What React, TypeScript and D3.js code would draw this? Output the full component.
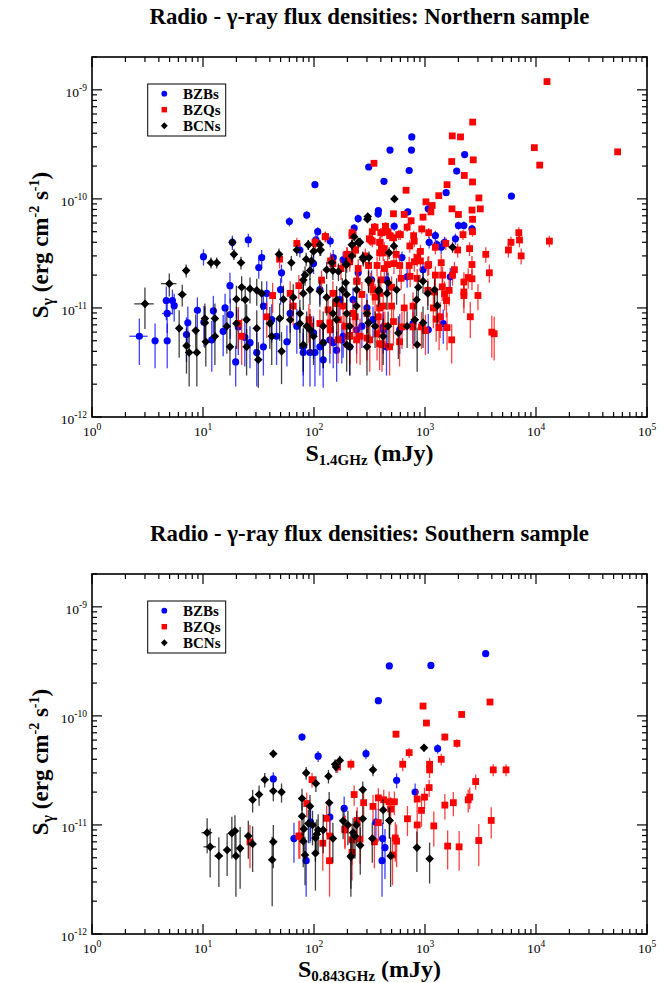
import React from 'react';
import * as d3 from 'd3';

// Each point: [radio flux (mJy), gamma flux (1e-12 erg cm^-2 s^-1), gamma error (same unit), optional radio error (mJy)]
type Pt = number[];

const Y_UNIT = 1e-12;
const xDomain = [1, 1e5];
const yDomain = [1e-12, 2e-9];
const legendLabels = ['BZBs', 'BZQs', 'BCNs'];
const panelTitles = ['Radio - \u03b3-ray flux densities: Northern sample', 'Radio - \u03b3-ray flux densities: Southern sample'];
const xLabelSubs = ['1.4GHz', '0.843GHz'];

const northBZB: Pt[] = [
  [760,370,10],[484,280,10],[755,280,10],[311,196,8],[427,145,8],[720,182,8],[102,135,8],[2276,255,10],[1930,180,8],[1550,114,6],[6000,106,6],
  [86,71,6],[700,76,6],[380,78,6],[378,73,6],[250,66,6],[1070,81,6],[2000,57,5],[2240,57,5],[2650,53,5],[1240,46,5],[1880,43,5],[1090,40,5],[1500,40,5],[1400,36,5],[230,54,5],[108,50,5],[140,41,5],[104,42,5],[528,56,5],
  [60,62,6],[25.6,42,6],[18.4,40,6],[10.1,29.5,5],[33.8,29,5],[31.8,23.5,5],[17.5,16,5],[4.67,11.7,4],[5.3,11.7,3],[5.5,10.5,3],[4.76,8.9,3,0.5],[2.67,5.5,2.5,0.5],[3.7,5.0,2.2],[4.76,5.0,2.2],[8.9,9.5,3],[19.7,3.2,1.3],[7.3,7.3,3],[7.1,5.7,2.5],[12.4,9.4,3.5],[15.8,10,3.5],[17.6,8.7,3.5],[10.2,7.4,3],[12,5.1,2.5],[15.2,6.1,2.5],[20.8,6.7,3],[23.8,5.4,2.5],
  [51,21,4],[50,14.7,4],[37.5,13.6,4],[35,10.4,4],[41.6,7.8,3],[61,8.9,3],[70,6.8,3],[46,5.5,2.5],[35,4.4,2],[30.5,3.9,2],[26.5,4.8,2],[57,4.9,2],[80,4.4,2],[92,3.9,2],[113,4.4,2],[139,5.1,2],[160,4.1,2],[121,3.35,1.5],[183,5.5,2],[210,4.4,2],[270,6.8,2.5],[340,7.8,2.5],[420,6.3,2.5],[450,4.4,2],
  [74.6,34,5],[99,25.5,5],[149,29,5],[183,27.6,5],[250,21,4],[330,18.1,4],[450,18.1,4],[620,29,4],[690,19.3,4],[960,22.4,4],[1280,38,4],[1690,19.3,4],[225,11.9,3.5],[300,10,3.5],[171,11.9,3.5],[113,14.7,4],[99,5.9,2.5],[121,4.8,2],[149,4.8,2],[178,5.1,2],[242,6.3,2.5],[420,6.7,2.5],[592,6.3,2.5],[780,7.2,2.5],[1070,6.3,2.5],[1460,7.2,2.5],[80,3.9,2],[102,3.9,2],
];

const northBZQ: Pt[] = [
  [12560,1190,20],[2690,506,10],[1760,378,10],[2090,370,10],[9660,295,8],[54400,270,8],[347,212,8],[1740,220,8],[2720,228,8],[10800,204,8],[2260,164,6],[2680,143,6],[1580,135,6],[675,120,6],[1330,107,5],[3060,102,5],[1020,94,5],[1160,87,5],[1130,76,5],[1750,81,5],[2650,79,5],[3150,81,5],[2000,72,5],[520,73,5],[650,72,5],[960,68,5],[750,63,5],[2680,65,5],[690,55,5],[440,56,5],[350,55,5],[600,47,5],[335,50,5],[400,49,5],[465,50,5],[935,53,5],[1080,49,5],[2680,50,5],[2200,47,5],[7000,49,6],[7100,42,6],[5950,40,5],[13200,41,5],[220,46,5],[315,43,5],[335,41,5],[395,40,5],[480,46,5],[520,44,5],[580,47,5],[800,41,5],[790,46,5],[1540,39,5],[910,33,5],[1240,36,5],[1970,34,5],[2520,35,5],[3530,31,5],[5640,34,5],[7350,30,5],[3800,21,4],[405,35,5],[420,32,5],[390,32,5],[550,31,5],[730,37,5],[235,34,5],[200,31,5],[210,28,5],[290,30,5],[1400,26,5],[1080,25,5],[2650,25,5],[1240,20,4],[1440,20,4],[1840,22.4,4],[1770,20,4],[2240,17.3,4],[2650,18.5,4],[2450,19,4],[1430,15.6,4],[2240,14,4],[2240,13,4],[3000,13,3.5],[1650,14.5,4],[1560,11.7,3.5],[2560,8.3,3],[4000,6,2.5],[4200,5.8,2.5],[1740,5.1,2],[1580,6.6,2.5],[1340,6.6,2.5],[1010,6.2,2.5],[1260,7.9,3],[1370,8.3,3],[1190,10,3.5],[1220,14,4],[1060,14.5,4],[1500,13.5,4],
  [720,24.5,5],[800,26.5,5],[910,27,5],[1060,24.5,5],[850,29,5],[592,24.5,5],[525,25.5,5],[460,25,5],[430,23,5],[370,24.5,5],[310,24.5,5],[250,23,5],[210,26.5,5],[175,23,5],[148,25.5,5],[127,45,5],[103,39,5],
  [242,17.6,4],[325,17,4],[400,18.1,4],[500,15.5,4],[610,18.7,4],[735,19.5,4],[850,18.7,4],[270,13.3,4],[355,12.6,4],[390,10,3.5],[500,10.4,3.5],[650,10,3.5],[780,10.4,3.5],[235,8.3,3],[300,8.9,3],[380,8.3,3],[520,7.5,3],[620,6.7,2.5],[780,6.7,2.5],[930,6.7,2.5],[210,5.5,2.5],[260,5.5,2.5],[318,5.1,2.5],[390,4.7,2],[480,4.4,2],[590,4.9,2],[165,5.1,2],[140,6.3,2.5],[113,7.2,2.5],[183,10.4,3.5],[148,13.6,4],
  [42.4,13,4],[70,39,5],[49,28,5],[126,45,5],[102,40,5],[117,18,4],[73,16,4],[197,31,5],[237,34,5],[141,27,5],[220,49,5],[225,47,5],[355,55,5],[440,56,5],[410,49,5],[325,42,5],[390,40,5],[430,35,5],[245,17.6,4],[340,14.7,4],[390,13.6,4],[420,10.4,3.5],[90,7.8,3],[92,6.8,3],[139,7.3,2.5],[166,7.8,3],[190,6.8,2.5],[210,5.6,2.5],[242,5.1,2],[300,5.3,2],[370,5.8,2.5],[435,6.8,2.5],[410,4.6,2],[134,9.6,3.5],[225,8.9,3],[160,11,3.5],[22.3,5.5,2.5],[20.8,7.2,3],[37.5,8.3,3],[61,13.6,4],[65,10.4,3.5],
];

const northBCN: Pt[] = [
  [3.0,10.9,4.5,0.6],[4.97,16.7,4,0.8],[7.05,22,3],[6.5,13.3,3,0.6],[6.1,6.5,3],[7.5,3.9,2],[8.8,3.9,2],[7.1,4.5,2],[8.6,6.2,2.5],[10.6,4.9,2],[10.4,7.3,3],[11.8,26,3],[13.3,26,3],[19,31,3.5],[18.4,40,4],[22,26,3.5],[48.4,31,4],[70,34,4],[89,38,4],[113,38,4],[115,34,4],[62.5,26,4],[85,28,4],[303,65,4],[250,40,4],[220,38,4],[260,40,4],[278,28,4],[197,25,4],[219,30,4],[148,22,4],[130,22.4,4],[92,22,4],[83,20,4],[80,18,4],[22.3,15.5,4],[20,12,4],[24,11.9,4],[26.5,15,4],[30.5,14.5,4],[33.8,13.6,4],[53,12,4],[65,12.5,4],[80,13.6,4],[92,14.7,4],[113,14.2,4],[130,12.5,4],[160,11.9,4],[197,13.3,4],[242,14.7,4],[310,18.1,4],[380,14.2,4],
  [12.8,8,3],[10.4,8,3],[12.8,5.5,2.5],[16.4,6.8,3],[20,7.2,3],[24.7,7.8,3],[30.5,6.5,3],[40,7.2,3],[49,8,3],[61,7.8,3],[74.6,7.2,3],[92,6.3,2.5],[121,6.8,2.5],[160,7.8,3],[197,8.9,3],[242,10.4,3.5],[300,8.9,3],[355,6.8,2.5],[420,5.5,2.5],[300,4.4,2],[197,4.6,2],[121,4.8,2],[80,4.6,2],[51,4.0,2],[41.6,5.5,2.5],[31.5,3.35,1.5],[24.7,4.4,2],[17.5,4.4,2],
  [530,100,5],[305,69,5],[230,45,4],[255,40,4],[220,38,4],[525,37,4],[475,32,4],[1770,36,4],[275,29,4],[313,29,4],[193,25,4],[166,21.6,4],[145,26,4],[113,34,4],[99,33,4],[89,38,4],[95,27,4],
  [193,17,4],[180,14.7,4],[310,17.7,4],[385,14.7,4],[455,13.6,4],[465,17,4],[555,14.7,4],[870,15.5,4],[960,17.6,4],[1060,13.6,4],[1220,14.7,4],[1290,10.5,3.5],[840,11.9,3.5],
  [148,8.9,3],[210,6.8,2.5],[310,7.3,2.5],[465,6.8,2.5],[575,5.9,2.5],[690,6.8,2.5],[810,7.8,3],[960,7.3,3],[850,4.6,2],[210,4.4,2],[99,5.5,2.5],[86,6.8,2.5],[74.6,8.9,3],
];

const southBZB: Pt[] = [
  [3520,372,8],[477,287,8],[1130,290,8],[380,138,6],[78,64,5],[109,42.7,5],[294,45,5],[1300,50,5],[555,25.7,4],[815,20,4],[187,14.2,4],[139,11.8,3.5],[66,7.5,3],[85,4.7,2.5],[415,7.5,3],[436,6.2,3],[410,4.7,2.5],[93,10.6,3.5],[43,26.4,4],[361,10.6,3.5],[92,10.3,3.5],
];

const southBZQ: Pt[] = [
  [3850,134,6],[2140,103,5],[960,123,5],[1030,86,5],[548,68,5],[1510,64,5],[1940,56,5],[720,46,5],[630,36,5],[1100,36,5],[1100,32,5],[1400,40,5],[215,36,4],[163,34,4],[96,26,4],[4120,32,4],[5370,32,4],[2860,25,4],[1090,22,4],[850,17.3,4],[990,18,4],[230,19,4],[2450,17,4],[2530,18,4],[1800,16,4],[1510,15.2,4],[380,17.7,4],[425,17,4],[475,16.3,4],[530,16.3,4],[280,16,4],[340,14.8,4],[490,14,4],[930,13.6,4],[695,11.4,3.5],[3950,11,3.5],[850,10,3.5],[1200,9.8,3.5],[380,10.5,3.5],[130,11.5,3.5],[190,9,3],[86,15.7,4],[73,7.9,3],[120,6.8,3],[139,7.9,3],[220,7.3,3],[260,7.4,3],[350,7,3],[540,7.6,3],[555,7.1,3],[510,5.3,2.5],[220,5.6,2.5],[138,4.7,2.5],[1600,6.4,2.5],[2030,6.3,2.5],[3050,7.2,3],[245,11,3.5],[26.5,7,3],[74.6,7.9,3],[190,9.2,3],
];

const southBCN: Pt[] = [
  [43,45,4],[36,26,4],[32,19,4],[28,17,4],[43,20.5,4],[51,20,4],[85,30,4],[104,24,4],[135,28,4],[155,36,4],[171,39,4],[158,34,4],[340,32,4],[275,21,4],[78,17.5,4],[92,14.8,4],[137,16,4],
  [10.9,8.5,3,1.2],[11.6,6.3,3,1.5],[13.9,5.2,2.5,1.2],[16.5,5.9,2.5,1.2],[18.2,8.4,3.5],[19.4,8.8,3.5],[19.8,5.2,3],[21.6,6.1,3.5],[25.6,7.9,3],[28,6.7,3],[43,7,3],[42,4.8,3],
  [78,12,4],[81,9.2,3.5],[89,10.3,3.5],[97,10,3.5],[109,9,3.5],[121,9,3.5],[80,7.1,3],[83,5.3,2.5],[103,5.5,3],[103,7.6,3],[106,8.2,3],[148,7.5,3],[183,10.9,3.5],[202,10,3.5],[242,10,3.5],[275,11.4,3.5],[225,8.5,3],[234,7.9,3],[261,6.5,3],[215,5.2,3],[420,13.7,3.5],[477,11,3.5],[335,7.5,3],[980,51,4],[480,11,3.5],[845,6.2,2.5],[1100,4.9,2],[215,5.1,2.5],[490,5.2,2.5],
];

const SERIF = "'Liberation Serif', 'Times New Roman', 'DejaVu Serif', serif";
const colors = ['#0000ff', '#ff0000', '#000000'];
const shapes = ['circle', 'square', 'diamond'];

function Marker({ shape, cx, cy, color, s = 1 }: { shape: string; cx: number; cy: number; color: string; s?: number }) {
  if (shape === 'circle') return <circle cx={cx} cy={cy} r={3.6 * s} fill={color} />;
  if (shape === 'square') { const h = 3.4 * s; return <rect x={cx - h} y={cy - h} width={2 * h} height={2 * h} fill={color} />; }
  const d = 4.3 * s;
  return <path d={`M${cx},${cy - d}L${cx + d},${cy}L${cx},${cy + d}L${cx - d},${cy}Z`} fill={color} />;
}

function Series({ data, x, y, color, shape }: any) {
  const yMin = yDomain[0];
  return (
    <g>
      <g stroke={color} strokeWidth={1.3} strokeOpacity={0.75}>
        {data.map((d: Pt, i: number) => {
          const cx = x(d[0]);
          const hi = y((d[1] + d[2]) * Y_UNIT);
          const lo = y(Math.max((d[1] - d[2]) * Y_UNIT, yMin));
          const cy = y(d[1] * Y_UNIT);
          return (
            <g key={i}>
              <line x1={cx} x2={cx} y1={hi} y2={lo} />
              {d[3] ? <line x1={x(d[0] - d[3])} x2={x(d[0] + d[3])} y1={cy} y2={cy} /> : null}
            </g>
          );
        })}
      </g>
      {data.map((d: Pt, i: number) => (
        <Marker key={i} shape={shape} cx={x(d[0])} cy={y(d[1] * Y_UNIT)} color={color} />
      ))}
    </g>
  );
}

function Panel({ top, title, sub, series, labelDy }: { top: number; title: string; sub: string; series: Pt[][]; labelDy: number }) {
  const left = 92, right = 647, bottom = top + 360;
  const x = d3.scaleLog().domain(xDomain).range([left, right]);
  const y = d3.scaleLog().domain(yDomain).range([bottom, top]);
  const isMajor = (t: number) => Math.abs(Math.log10(t) - Math.round(Math.log10(t))) < 1e-6;
  const xt = x.ticks();
  const yt = y.ticks().filter((t) => t >= yDomain[0] * 0.999 && t <= yDomain[1] * 1.001);
  const midX = (left + right) / 2;
  const midY = (top + bottom) / 2;
  const lgTop = top + 27;
  return (
    <g fontFamily={SERIF}>
      <text x={midX} y={top - 33} textAnchor="middle" fontSize={22.8} fontWeight="bold">{title}</text>
      <rect x={left} y={top} width={right - left} height={bottom - top} fill="white" />
      {series.map((d, i) => (
        <Series key={i} data={d} x={x} y={y} color={colors[i]} shape={shapes[i]} />
      ))}
      <g stroke="black" strokeWidth={1.2}>
        {xt.map((t, i) => {
          const L = isMajor(t) ? 10 : 5;
          const px = x(t);
          return (
            <g key={i}>
              <line x1={px} x2={px} y1={bottom} y2={bottom - L} />
              <line x1={px} x2={px} y1={top} y2={top + L} />
            </g>
          );
        })}
        {yt.map((t, i) => {
          const L = isMajor(t) ? 10 : 5;
          const py = y(t);
          return (
            <g key={i}>
              <line x1={left} x2={left + L} y1={py} y2={py} />
              <line x1={right} x2={right - L} y1={py} y2={py} />
            </g>
          );
        })}
      </g>
      <rect x={left} y={top} width={right - left} height={bottom - top} fill="none" stroke="black" strokeWidth={1.6} />
      {xt.filter(isMajor).map((t, i) => (
        <text key={i} x={x(t)} y={bottom + 19} textAnchor="middle" fontSize={13.5}>
          10<tspan dy={-6} fontSize={9.5}>{Math.round(Math.log10(t))}</tspan>
        </text>
      ))}
      {yt.filter(isMajor).map((t, i) => (
        <text key={i} x={left - 5} y={y(t) + 7} textAnchor="end" fontSize={13.5}>
          10<tspan dy={-6} fontSize={9.5}>{Math.round(Math.log10(t))}</tspan>
        </text>
      ))}
      <text x={midX} y={bottom + labelDy} textAnchor="middle" fontSize={24} fontWeight="bold">
        S<tspan dy={4} fontSize={15}>{sub}</tspan><tspan dy={-4}> (mJy)</tspan>
      </text>
      <text transform={`translate(48,${midY + 8}) rotate(-90)`} textAnchor="middle" fontSize={23} fontWeight="bold">
        S<tspan dy={5} fontSize={16}>{'\u03b3'}</tspan><tspan dy={-5}> (erg cm</tspan><tspan dy={-9} fontSize={14}>-2</tspan><tspan dy={9}> s</tspan><tspan dy={-9} fontSize={14}>-1</tspan><tspan dy={9}>)</tspan>
      </text>
      <g>
        <rect x={147.7} y={lgTop} width={78} height={52} fill="white" stroke="black" strokeWidth={1} />
        {legendLabels.map((lab, i) => (
          <g key={i}>
            <Marker shape={shapes[i]} cx={164.3} cy={lgTop + 9.7 + 16 * i} color={colors[i]} s={0.8} />
            <text x={183} y={lgTop + 14.5 + 16 * i} fontSize={15} fontWeight="bold">{lab}</text>
          </g>
        ))}
      </g>
    </g>
  );
}

export default function App() {
  return (
    <svg width={668} height={983} style={{ position: 'absolute', left: 0, top: 0, background: 'white' }}>
      <rect width={668} height={983} fill="white" />
      <Panel top={57} title={panelTitles[0]} sub={xLabelSubs[0]} series={[northBZB, northBZQ, northBCN]} labelDy={44} />
      <Panel top={574} title={panelTitles[1]} sub={xLabelSubs[1]} series={[southBZB, southBZQ, southBCN]} labelDy={43} />
    </svg>
  );
}
